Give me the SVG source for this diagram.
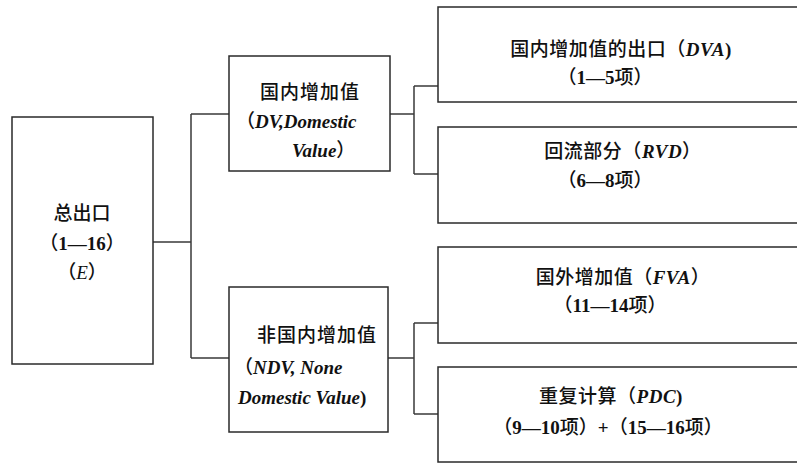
<svg xmlns="http://www.w3.org/2000/svg" width="797" height="464" viewBox="0 0 797 464">
<style>
.box{fill:#fff;stroke:#2a2a2a;stroke-width:1.5}
.con{fill:none;stroke:#3a3a3a;stroke-width:1.5}
text{font-family:"Liberation Serif","Noto Sans CJK SC",serif;font-size:19px;fill:#111;font-weight:bold}
.c{text-anchor:middle}
.i{font-style:italic}
.k{font-family:"Noto Sans CJK SC",sans-serif;font-weight:500}
</style>
<rect width="797" height="464" fill="#fff"/>
<g id="connectors">
<path class="con" d="M153,242H191M191,114V358M191,114H229M191,358H229"/>
<path class="con" d="M390,114H414M414,86V174M414,86H438M414,174H438"/>
<path class="con" d="M388,358H414M414,323V414M414,323H438M414,414H438"/>
</g>
<g id="E">
<rect class="box" x="12" y="117" width="141" height="247"/>
<text class="c" x="82" y="220"><tspan class="k">总出口</tspan></text>
<text class="c" x="82" y="250"><tspan class="k">（</tspan>1—16<tspan class="k">）</tspan></text>
<text class="c" x="82" y="279"><tspan class="k">（</tspan><tspan class="i" font-weight="normal">E</tspan><tspan class="k">）</tspan></text>
</g>
<g id="DV">
<rect class="box" x="229" y="56" width="161" height="115"/>
<text class="c" x="310" y="99" letter-spacing="1"><tspan class="k">国内增加值</tspan></text>
<text x="236" y="128" font-size="20"><tspan class="k">（</tspan><tspan class="i">DV,Domestic</tspan></text>
<text x="292" y="157" font-size="20"><tspan class="i">Value</tspan><tspan class="k">）</tspan></text>
</g>
<g id="NDV">
<rect class="box" x="229" y="287" width="159" height="145"/>
<text x="257" y="342" letter-spacing="1"><tspan class="k">非国内增加值</tspan></text>
<text x="234" y="374" font-size="20"><tspan class="k">（</tspan><tspan class="i">NDV, None</tspan></text>
<text x="238" y="404" font-size="20"><tspan class="i">Domestic Value</tspan>)</text>
</g>
<g id="DVA">
<rect class="box" x="438" y="7" width="370" height="95"/>
<text class="c" x="621" y="56" letter-spacing="0.5"><tspan class="k">国内增加值的出口（</tspan><tspan class="i">DVA</tspan>)</text>
<text class="c" x="605" y="84"><tspan class="k">（</tspan>1—5<tspan class="k">项）</tspan></text>
</g>
<g id="RVD">
<rect class="box" x="438" y="127" width="370" height="96"/>
<text class="c" x="623" y="158" letter-spacing="0.5"><tspan class="k">回流部分（</tspan><tspan class="i">RVD</tspan><tspan class="k">）</tspan></text>
<text class="c" x="605" y="187"><tspan class="k">（</tspan>6—8<tspan class="k">项）</tspan></text>
</g>
<g id="FVA">
<rect class="box" x="438" y="247" width="370" height="96"/>
<text class="c" x="623" y="284" letter-spacing="0.5"><tspan class="k">国外增加值（</tspan><tspan class="i">FVA</tspan><tspan class="k">）</tspan></text>
<text class="c" x="610" y="312"><tspan class="k">（</tspan>11—14<tspan class="k">项）</tspan></text>
</g>
<g id="PDC">
<rect class="box" x="438" y="367" width="370" height="95"/>
<text class="c" x="611" y="403" letter-spacing="0.5"><tspan class="k">重复计算（</tspan><tspan class="i">PDC</tspan>)</text>
<text class="c" x="608" y="434"><tspan class="k">（</tspan>9—10<tspan class="k">项）</tspan>+<tspan class="k">（</tspan>15—16<tspan class="k">项）</tspan></text>
</g>
</svg>
